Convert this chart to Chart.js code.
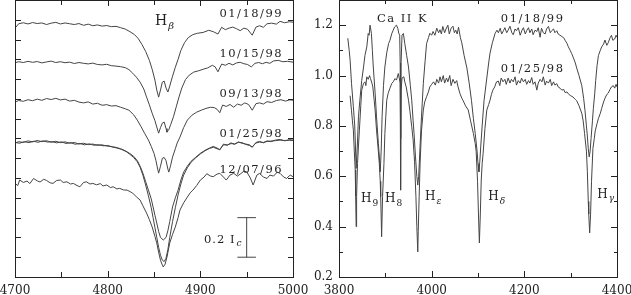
<!DOCTYPE html>
<html>
<head>
<meta charset="utf-8">
<script src="https://cdn.jsdelivr.net/npm/chart.js@4.4.0/dist/chart.umd.min.js"></script>
<style>
html, body { margin: 0; padding: 0; background: #fff; }
#wrap { position: relative; width: 631px; height: 295px; }
canvas { position: absolute; left: 0; top: 0; }
</style>
</head>
<body>
<div id="wrap">
<canvas id="hbeta" width="631" height="295"></canvas>
<canvas id="cak" width="631" height="295"></canvas>
</div>
<script>
// left panel: H-beta profiles, offset in units of the continuum (wavelength, flux)
var hb990118 = [[4700,1.258],[4704,1.280],[4709,1.285],[4714,1.279],[4719,1.286],[4724,1.281],[4729,1.284],[4734,1.276],[4739,1.283],[4744,1.287],[4749,1.279],[4754,1.284],[4759,1.280],[4764,1.276],[4769,1.281],[4774,1.272],[4779,1.278],[4784,1.270],[4789,1.274],[4794,1.268],[4799,1.271],[4804,1.265],[4809,1.267],[4814,1.260],[4819,1.253],[4824,1.240],[4829,1.225],[4833,1.205],[4837,1.175],[4841,1.140],[4845,1.095],[4848,1.050],[4851,0.995],[4853,0.945],[4855,0.909],[4857,0.945],[4859,0.985],[4861,0.990],[4863,0.955],[4865,0.935],[4867,0.965],[4870,1.015],[4873,1.060],[4876,1.100],[4879,1.145],[4883,1.185],[4887,1.210],[4892,1.225],[4897,1.232],[4903,1.236],[4909,1.247],[4914,1.240],[4919,1.228],[4923,1.262],[4927,1.250],[4931,1.258],[4935,1.263],[4939,1.255],[4943,1.245],[4947,1.258],[4951,1.252],[4956,1.222],[4960,1.263],[4964,1.270],[4968,1.262],[4972,1.280],[4977,1.283],[4982,1.278],[4986,1.292],[4991,1.285],[4996,1.290],[5000,1.288]];
var hb981015 = [[4700,1.083],[4704,1.088],[4709,1.084],[4714,1.090],[4719,1.085],[4724,1.089],[4729,1.082],[4734,1.087],[4739,1.091],[4744,1.084],[4749,1.088],[4754,1.083],[4759,1.086],[4764,1.079],[4769,1.084],[4774,1.080],[4779,1.077],[4784,1.081],[4789,1.074],[4794,1.072],[4799,1.075],[4804,1.068],[4809,1.066],[4814,1.063],[4819,1.058],[4823,1.048],[4827,1.030],[4831,1.010],[4835,0.985],[4839,0.950],[4842,0.909],[4845,0.870],[4848,0.828],[4851,0.790],[4853,0.758],[4855,0.727],[4857,0.755],[4859,0.778],[4861,0.783],[4863,0.750],[4864,0.732],[4866,0.745],[4868,0.770],[4871,0.810],[4874,0.860],[4877,0.910],[4880,0.955],[4884,0.998],[4888,1.020],[4893,1.036],[4898,1.042],[4903,1.050],[4908,1.057],[4913,1.070],[4916,1.062],[4919,1.037],[4923,1.076],[4927,1.070],[4931,1.080],[4935,1.072],[4939,1.082],[4943,1.085],[4947,1.078],[4951,1.074],[4955,1.062],[4959,1.080],[4963,1.084],[4967,1.078],[4971,1.085],[4975,1.080],[4979,1.092],[4984,1.095],[4989,1.088],[4994,1.090],[5000,1.086]];
var hb980913 = [[4700,0.884],[4704,0.892],[4709,0.888],[4714,0.896],[4719,0.891],[4724,0.899],[4729,0.893],[4734,0.902],[4739,0.897],[4744,0.903],[4749,0.895],[4754,0.899],[4759,0.889],[4764,0.893],[4769,0.884],[4774,0.880],[4779,0.885],[4784,0.874],[4789,0.878],[4794,0.868],[4799,0.871],[4804,0.864],[4809,0.866],[4814,0.858],[4819,0.850],[4823,0.843],[4828,0.820],[4832,0.793],[4836,0.760],[4840,0.725],[4844,0.692],[4847,0.660],[4850,0.625],[4852,0.590],[4854,0.545],[4855,0.525],[4857,0.560],[4859,0.600],[4861,0.604],[4863,0.588],[4865,0.545],[4866,0.530],[4868,0.565],[4870,0.606],[4873,0.648],[4875,0.677],[4878,0.707],[4882,0.755],[4886,0.793],[4891,0.818],[4896,0.833],[4901,0.843],[4906,0.852],[4911,0.858],[4915,0.856],[4918,0.848],[4921,0.830],[4924,0.869],[4928,0.862],[4932,0.872],[4936,0.858],[4940,0.874],[4944,0.868],[4948,0.880],[4952,0.872],[4956,0.843],[4960,0.876],[4964,0.880],[4968,0.874],[4972,0.886],[4977,0.882],[4982,0.892],[4987,0.896],[4992,0.889],[4996,0.895],[5000,0.894]];
var hb980125a = [[4700,0.677],[4704,0.684],[4709,0.680],[4714,0.688],[4719,0.683],[4724,0.690],[4729,0.684],[4734,0.689],[4739,0.681],[4744,0.686],[4749,0.679],[4754,0.683],[4759,0.676],[4764,0.680],[4769,0.672],[4774,0.676],[4779,0.669],[4784,0.672],[4789,0.665],[4794,0.668],[4799,0.662],[4804,0.659],[4809,0.655],[4814,0.648],[4819,0.638],[4824,0.624],[4828,0.610],[4832,0.588],[4835,0.560],[4838,0.525],[4841,0.482],[4844,0.439],[4847,0.395],[4849,0.354],[4851,0.312],[4853,0.273],[4855,0.230],[4857,0.200],[4860,0.187],[4863,0.200],[4865,0.235],[4867,0.280],[4870,0.354],[4873,0.400],[4876,0.439],[4879,0.490],[4882,0.530],[4886,0.560],[4890,0.585],[4895,0.605],[4900,0.625],[4905,0.640],[4910,0.652],[4914,0.660],[4918,0.652],[4921,0.642],[4925,0.672],[4929,0.665],[4933,0.678],[4937,0.670],[4941,0.683],[4945,0.676],[4949,0.672],[4953,0.668],[4956,0.655],[4960,0.680],[4964,0.685],[4968,0.678],[4972,0.688],[4976,0.684],[4981,0.692],[4986,0.695],[4991,0.688],[4996,0.694],[5000,0.692]];
var hb980125b = [[4700,0.680],[4705,0.676],[4710,0.684],[4715,0.679],[4720,0.686],[4725,0.681],[4730,0.688],[4735,0.682],[4740,0.684],[4745,0.678],[4750,0.683],[4755,0.675],[4760,0.679],[4765,0.671],[4770,0.675],[4775,0.668],[4780,0.673],[4785,0.666],[4790,0.669],[4795,0.663],[4800,0.665],[4805,0.657],[4810,0.652],[4815,0.645],[4820,0.634],[4824,0.620],[4828,0.604],[4832,0.582],[4835,0.555],[4838,0.515],[4841,0.465],[4844,0.410],[4847,0.350],[4849,0.300],[4851,0.250],[4853,0.200],[4855,0.150],[4857,0.110],[4859,0.085],[4861,0.078],[4863,0.095],[4865,0.140],[4867,0.200],[4870,0.280],[4873,0.350],[4876,0.415],[4879,0.470],[4882,0.515],[4886,0.552],[4890,0.580],[4895,0.602],[4900,0.622],[4905,0.638],[4910,0.650],[4914,0.656],[4918,0.648],[4921,0.645],[4925,0.668],[4929,0.668],[4933,0.674],[4937,0.673],[4941,0.680],[4945,0.679],[4949,0.670],[4953,0.665],[4956,0.658],[4960,0.677],[4964,0.682],[4968,0.680],[4972,0.685],[4976,0.687],[4981,0.689],[4986,0.692],[4991,0.690],[4996,0.691],[5000,0.690]];
var hb961207 = [[4700,0.473],[4703,0.462],[4705,0.490],[4709,0.478],[4713,0.485],[4716,0.472],[4720,0.498],[4724,0.486],[4727,0.480],[4731,0.494],[4734,0.488],[4738,0.476],[4741,0.473],[4745,0.488],[4749,0.490],[4752,0.478],[4756,0.481],[4760,0.470],[4763,0.473],[4767,0.462],[4770,0.456],[4774,0.478],[4777,0.481],[4781,0.470],[4784,0.473],[4788,0.466],[4792,0.472],[4795,0.460],[4799,0.465],[4803,0.452],[4806,0.456],[4810,0.445],[4813,0.448],[4817,0.440],[4821,0.439],[4824,0.432],[4827,0.424],[4831,0.405],[4835,0.389],[4838,0.360],[4842,0.323],[4845,0.290],[4848,0.253],[4851,0.205],[4853,0.172],[4855,0.125],[4857,0.085],[4859,0.060],[4860,0.051],[4862,0.065],[4864,0.101],[4867,0.172],[4870,0.215],[4873,0.253],[4876,0.300],[4878,0.338],[4882,0.375],[4886,0.404],[4889,0.425],[4892,0.439],[4896,0.462],[4900,0.490],[4904,0.505],[4907,0.522],[4911,0.510],[4914,0.507],[4918,0.520],[4921,0.524],[4925,0.505],[4928,0.490],[4932,0.515],[4936,0.524],[4940,0.510],[4943,0.520],[4947,0.535],[4950,0.532],[4954,0.500],[4957,0.465],[4961,0.515],[4964,0.524],[4968,0.505],[4972,0.498],[4975,0.515],[4979,0.510],[4983,0.530],[4986,0.524],[4990,0.505],[4993,0.498],[4997,0.515],[5000,0.507]];
// 0.2 Ic scale bar
var barX = [4940, 4950, 4960];
var barY = [0.1, 0.3];

// right panel: Balmer lines and Ca II K (wavelength, flux)
var blue990118 = [[3819,1.148],[3822,1.10],[3824,1.061],[3827,0.969],[3831,0.876],[3834,0.80],[3837,0.631],[3840,0.74],[3842,0.836],[3845,0.902],[3849,0.98],[3853,1.034],[3856,1.08],[3860,1.114],[3863,1.167],[3865,1.16],[3867,1.2],[3870,1.167],[3872,1.10],[3874,1.034],[3878,0.93],[3881,0.836],[3885,0.73],[3887,0.68],[3889,0.618],[3891,0.70],[3893,0.836],[3896,0.96],[3899,1.034],[3903,1.09],[3907,1.127],[3910,1.14],[3914,1.167],[3917,1.18],[3920,1.193],[3924,1.20],[3927,1.187],[3929,1.168],[3931,1.16],[3932,1.05],[3933,0.75],[3934,1.05],[3936,1.16],[3939,1.167],[3942,1.127],[3946,1.08],[3950,1.034],[3954,0.96],[3957,0.902],[3960,0.82],[3962,0.77],[3965,0.68],[3968,0.60],[3970,0.565],[3972,0.60],[3975,0.72],[3978,0.836],[3982,0.969],[3986,1.061],[3989,1.127],[3993,1.15],[3996,1.168],[4000,1.16],[4003,1.175],[4007,1.16],[4011,1.188],[4015,1.17],[4018,1.182],[4021,1.165],[4024,1.195],[4028,1.17],[4031,1.185],[4035,1.2],[4038,1.165],[4042,1.188],[4046,1.196],[4049,1.17],[4052,1.18],[4055,1.165],[4058,1.192],[4062,1.15],[4065,1.13],[4070,1.08],[4076,1.03],[4081,0.97],[4086,0.90],[4090,0.83],[4094,0.77],[4098,0.70],[4100,0.65],[4102,0.618],[4104,0.66],[4106,0.72],[4109,0.80],[4113,0.90],[4119,0.99],[4123,1.05],[4126,1.089],[4131,1.13],[4137,1.168],[4141,1.18],[4144,1.17],[4148,1.188],[4151,1.165],[4155,1.178],[4158,1.19],[4162,1.17],[4165,1.18],[4169,1.196],[4173,1.17],[4176,1.162],[4180,1.185],[4183,1.178],[4187,1.19],[4191,1.16],[4195,1.18],[4198,1.19],[4202,1.165],[4205,1.178],[4209,1.19],[4212,1.17],[4216,1.185],[4219,1.162],[4223,1.18],[4227,1.175],[4230,1.19],[4234,1.152],[4237,1.188],[4241,1.17],[4245,1.165],[4248,1.185],[4252,1.195],[4256,1.17],[4259,1.178],[4263,1.185],[4266,1.17],[4270,1.178],[4273,1.165],[4277,1.16],[4281,1.155],[4285,1.15],[4288,1.14],[4292,1.128],[4295,1.114],[4299,1.10],[4302,1.088],[4306,1.07],[4310,1.05],[4313,1.03],[4318,1.00],[4324,0.96],[4328,0.91],[4331,0.86],[4334,0.80],[4336,0.76],[4338,0.71],[4340,0.677],[4342,0.70],[4344,0.75],[4347,0.82],[4349,0.87],[4352,0.93],[4354,0.98],[4357,1.04],[4360,1.08],[4364,1.10],[4367,1.114],[4371,1.125],[4374,1.141],[4378,1.12],[4381,1.13],[4385,1.15],[4388,1.16],[4391,1.14],[4395,1.145],[4398,1.16],[4400,1.152]];
var blue980125 = [[3824,0.92],[3827,0.86],[3829,0.82],[3831,0.783],[3833,0.70],[3835,0.625],[3836,0.52],[3837,0.40],[3838,0.52],[3840,0.651],[3842,0.72],[3844,0.783],[3847,0.88],[3849,0.942],[3853,0.969],[3856,0.975],[3858,0.96],[3860,0.995],[3863,0.985],[3866,1.0],[3868,0.988],[3871,0.97],[3873,0.955],[3876,0.90],[3878,0.863],[3881,0.783],[3884,0.72],[3887,0.651],[3889,0.58],[3890,0.519],[3892,0.36],[3894,0.519],[3897,0.651],[3899,0.77],[3901,0.836],[3903,0.902],[3906,0.929],[3910,0.95],[3914,0.969],[3917,0.975],[3921,0.988],[3924,0.982],[3928,1.008],[3930,0.99],[3932,0.97],[3933,0.545],[3934,0.94],[3936,0.99],[3940,0.995],[3942,0.975],[3945,0.955],[3950,0.902],[3953,0.86],[3957,0.797],[3960,0.744],[3963,0.66],[3966,0.52],[3968,0.40],[3970,0.30],[3971,0.38],[3973,0.52],[3975,0.65],[3978,0.78],[3982,0.863],[3985,0.895],[3989,0.916],[3993,0.935],[3996,0.955],[4000,0.965],[4004,0.975],[4008,0.962],[4011,0.985],[4015,0.97],[4018,0.995],[4021,0.975],[4025,1.0],[4028,0.97],[4032,0.99],[4035,0.975],[4039,1.0],[4042,0.96],[4046,0.985],[4050,0.969],[4054,0.98],[4057,0.955],[4061,0.929],[4065,0.91],[4068,0.90],[4073,0.88],[4079,0.863],[4084,0.82],[4090,0.77],[4094,0.73],[4096,0.70],[4099,0.58],[4101,0.45],[4103,0.335],[4105,0.45],[4107,0.585],[4109,0.65],[4111,0.69],[4115,0.79],[4119,0.863],[4123,0.885],[4126,0.902],[4129,0.925],[4132,0.942],[4136,0.955],[4140,0.975],[4144,0.978],[4147,0.96],[4150,0.99],[4154,0.975],[4158,0.985],[4161,0.965],[4165,0.99],[4169,0.97],[4172,0.985],[4176,0.975],[4180,0.995],[4183,0.962],[4187,0.98],[4191,0.97],[4194,0.99],[4198,0.975],[4202,0.985],[4205,0.965],[4209,0.98],[4212,0.97],[4216,0.992],[4219,0.965],[4223,0.975],[4227,0.942],[4230,0.97],[4234,0.985],[4238,0.975],[4241,0.995],[4245,0.962],[4248,0.978],[4252,0.97],[4256,0.985],[4259,0.96],[4263,0.975],[4266,0.962],[4270,0.968],[4273,0.955],[4277,0.95],[4281,0.942],[4285,0.945],[4288,0.932],[4292,0.935],[4296,0.925],[4300,0.92],[4305,0.915],[4310,0.905],[4313,0.90],[4318,0.88],[4324,0.85],[4327,0.82],[4330,0.77],[4334,0.70],[4336,0.62],[4338,0.50],[4339,0.45],[4341,0.375],[4343,0.45],[4345,0.58],[4348,0.71],[4351,0.75],[4353,0.78],[4357,0.81],[4360,0.83],[4364,0.85],[4367,0.87],[4371,0.895],[4374,0.91],[4378,0.925],[4381,0.93],[4385,0.945],[4388,0.955],[4392,0.96],[4395,0.95],[4398,0.965],[4400,0.955]];

var serif = "'DejaVu Serif', serif";
var ink = '#222';

function pts(arr) {
  return arr.map(function (p) { return { x: p[0], y: p[1] }; });
}
function trace(arr) {
  return { data: pts(arr), borderColor: '#444', borderWidth: 1, pointRadius: 0, fill: false, tension: 0 };
}
function fitX(s) { s.height = 18; s.paddingLeft = 0; s.paddingRight = 0; }
function fitY(s) { s.width = 40; s.paddingTop = 0; s.paddingBottom = 0; }

// frame, inward ticks on all four sides, and the in-plot text
var panelPlugin = {
  id: 'panel',
  afterDraw: function (chart, args, o) {
    var ctx = chart.ctx, a = chart.chartArea;
    var xs = chart.scales.x, ys = chart.scales.y;
    ctx.save();
    ctx.strokeStyle = ink;
    ctx.lineWidth = 1;
    ctx.strokeRect(a.left + 0.5, a.top + 0.5, a.right - a.left, a.bottom - a.top);
    ctx.beginPath();
    var i, v, p, len;
    for (i = 0; ; i++) {
      v = o.x[0] + i * o.x[2];
      if (v > o.x[1] + 1e-6) break;
      p = Math.round(xs.getPixelForValue(v)) + 0.5;
      len = i % o.x[3] === 0 ? o.x[4] : o.x[5];
      ctx.moveTo(p, a.bottom); ctx.lineTo(p, a.bottom - len);
      ctx.moveTo(p, a.top); ctx.lineTo(p, a.top + len);
    }
    for (i = 0; ; i++) {
      v = o.y[0] + i * o.y[2];
      if (v > o.y[1] + 1e-6) break;
      p = Math.round(ys.getPixelForValue(v)) + 0.5;
      len = i % o.y[3] === 0 ? o.y[4] : o.y[5];
      ctx.moveTo(a.left, p); ctx.lineTo(a.left + len, p);
      ctx.moveTo(a.right + 1, p); ctx.lineTo(a.right + 1 - len, p);
    }
    ctx.stroke();

    ctx.fillStyle = ink;
    ctx.textBaseline = 'alphabetic';
    o.labels.forEach(function (l) {
      var x = xs.getPixelForValue(l.x), y = ys.getPixelForValue(l.y);
      ctx.font = l.size + 'px ' + serif;
      ctx.letterSpacing = (l.spacing || 0) + 'px';
      ctx.textAlign = l.sub ? 'left' : 'center';
      ctx.fillText(l.text, x, y);
      if (l.sub) {
        var w = ctx.measureText(l.text).width;
        ctx.font = (l.italic ? 'italic ' : '') + l.subSize + 'px ' + serif;
        ctx.letterSpacing = '0px';
        ctx.fillText(l.sub, x + w + 1, y + l.drop);
      }
    });
    ctx.restore();
  }
};

var tickFont = { family: serif, size: 12 };

new Chart(document.getElementById('hbeta'), {
  type: 'line',
  data: {
    datasets: [
      trace(hb990118), trace(hb981015), trace(hb980913),
      trace(hb980125a), trace(hb980125b), trace(hb961207),
      trace([[barX[1], barY[0]], [barX[1], barY[1]]]),
      trace([[barX[0], barY[0]], [barX[2], barY[0]]]),
      trace([[barX[0], barY[1]], [barX[2], barY[1]]])
    ]
  },
  options: {
    responsive: false,
    animation: false,
    events: [],
    layout: { padding: { left: 15, right: 338, top: 0, bottom: 0 } },
    plugins: {
      legend: { display: false },
      tooltip: { enabled: false },
      panel: {
        x: [4700, 5000, 50, 2, 6, 5],
        y: [0, 1.4, 0.1, 1, 6, 6],
        labels: [
          { text: '01/18/99', x: 4955, y: 1.315, size: 11.5, spacing: 1.5 },
          { text: '10/15/98', x: 4955, y: 1.111, size: 11.5, spacing: 1.5 },
          { text: '09/13/98', x: 4955, y: 0.909, size: 11.5, spacing: 1.5 },
          { text: '01/25/98', x: 4955, y: 0.707, size: 11.5, spacing: 1.5 },
          { text: '12/07/96', x: 4955, y: 0.524, size: 11.5, spacing: 1.5 },
          { text: 'H', sub: 'β', x: 4851, y: 1.273, size: 14, subSize: 10, drop: 4, italic: true },
          { text: '0.2 I', sub: 'c', x: 4904, y: 0.170, size: 11.5, spacing: 1, subSize: 9, drop: 3, italic: true }
        ]
      }
    },
    scales: {
      x: {
        type: 'linear', min: 4700, max: 5000,
        grid: { display: false, drawTicks: false }, border: { display: false },
        ticks: { stepSize: 100, autoSkip: false, maxRotation: 0, padding: 7, color: ink, font: tickFont,
                 callback: function (v) { return String(v); } },
        afterFit: fitX
      },
      y: { type: 'linear', display: false, min: 0, max: 1.4 }
    }
  },
  plugins: [panelPlugin]
});

new Chart(document.getElementById('cak'), {
  type: 'line',
  data: { datasets: [trace(blue990118), trace(blue980125)] },
  options: {
    responsive: false,
    animation: false,
    events: [],
    layout: { padding: { left: 299, right: 14, top: 0, bottom: 0 } },
    plugins: {
      legend: { display: false },
      tooltip: { enabled: false },
      panel: {
        x: [3800, 4400, 100, 2, 6, 4],
        y: [0.2, 1.3, 0.1, 2, 7, 4],
        labels: [
          { text: 'Ca II K', x: 3937, y: 1.213, size: 11.5, spacing: 1.5 },
          { text: '01/18/99', x: 4218, y: 1.213, size: 11.5, spacing: 1.5 },
          { text: '01/25/98', x: 4218, y: 1.015, size: 11.5, spacing: 1.5 },
          { text: 'H', sub: '9', x: 3847.5, y: 0.499, size: 12, subSize: 9, drop: 4 },
          { text: 'H', sub: '8', x: 3899.3, y: 0.499, size: 12, subSize: 9, drop: 4 },
          { text: 'H', sub: 'ε', x: 3985.6, y: 0.506, size: 12, subSize: 9, drop: 4, italic: true },
          { text: 'H', sub: 'δ', x: 4122.2, y: 0.506, size: 12, subSize: 9, drop: 4, italic: true },
          { text: 'H', sub: 'γ', x: 4357.4, y: 0.512, size: 12, subSize: 9, drop: 3, italic: true }
        ]
      }
    },
    scales: {
      x: {
        type: 'linear', min: 3800, max: 4400,
        grid: { display: false, drawTicks: false }, border: { display: false },
        ticks: { stepSize: 200, autoSkip: false, maxRotation: 0, padding: 7, color: ink, font: tickFont,
                 callback: function (v) { return String(v); } },
        afterFit: fitX
      },
      y: {
        type: 'linear', position: 'left', min: 0.2, max: 1.3,
        grid: { display: false, drawTicks: false }, border: { display: false },
        ticks: { stepSize: 0.2, includeBounds: false, padding: 6, color: ink, font: tickFont,
                 callback: function (v) { return v.toFixed(1); } },
        afterFit: fitY
      }
    }
  },
  plugins: [panelPlugin]
});
</script>
</body>
</html>
